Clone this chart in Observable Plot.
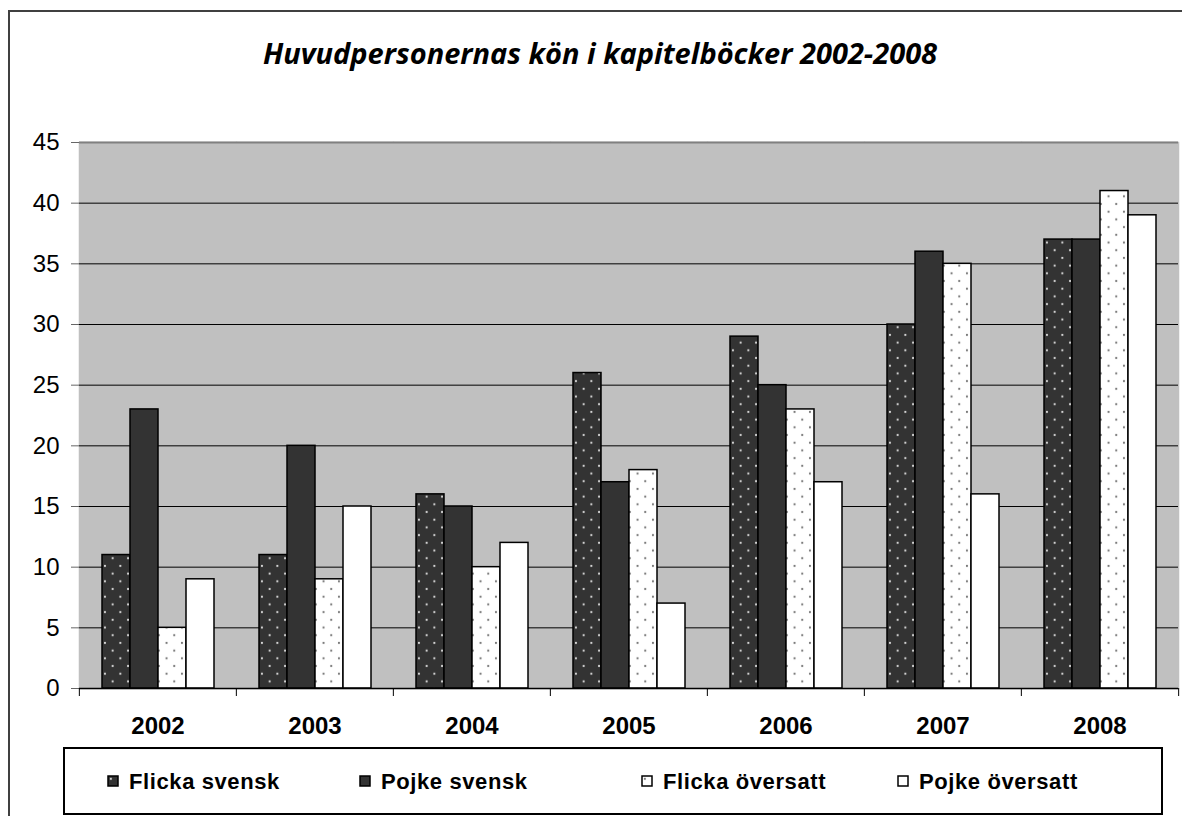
<!DOCTYPE html>
<html><head><meta charset="utf-8">
<script src="https://cdn.jsdelivr.net/npm/d3@7"></script>
<script src="https://cdn.jsdelivr.net/npm/@observablehq/plot@0.6"></script>
<style>
html,body{margin:0;padding:0;background:#fff;overflow:hidden;}
#page{position:relative;width:1182px;height:816px;overflow:hidden;}
#frame{position:absolute;left:8px;top:10px;width:1200px;height:900px;border:2px solid #404040;box-sizing:border-box;}
#title{position:absolute;left:0;top:38px;width:1200px;text-align:center;font-family:'Open Sans',Lato,sans-serif;font-weight:bold;font-style:italic;font-size:29px;line-height:30px;letter-spacing:0px;color:#000;white-space:nowrap;}
#chart{position:absolute;left:0;top:0;}
#legend{position:absolute;left:63px;top:747px;width:1100px;height:68px;border:2px solid #000;box-sizing:border-box;background:#fff;}
.item{position:absolute;top:22px;font-family:'Liberation Sans',Arial,sans-serif;font-weight:bold;font-size:22px;line-height:22px;letter-spacing:0.6px;white-space:nowrap;color:#000;}
.item svg{position:absolute;left:0;top:4px;}
.item span{position:absolute;left:22px;top:0;}
</style>
</head><body>
<div id="page">
  <div id="frame"></div>
  <div id="title">Huvudpersonernas kön i kapitelböcker 2002-2008</div>
  <div id="chart"></div>
  <div id="legend"></div>
</div>
<script>
const years = ["2002","2003","2004","2005","2006","2007","2008"];
const seriesNames = ["Flicka svensk","Pojke svensk","Flicka översatt","Pojke översatt"];
const flickaSvensk   = [11, 11, 16, 26, 29, 30, 37];
const pojkeSvensk    = [23, 20, 15, 17, 25, 36, 37];
const flickaOversatt = [ 5,  9, 10, 18, 23, 35, 41];
const pojkeOversatt  = [ 9, 15, 12,  7, 17, 16, 39];
const yTicks = [0, 5, 10, 15, 20, 25, 30, 35, 40, 45];
const gridValues = [5, 10, 15, 20, 25, 30, 35, 40];

const seriesValues = [flickaSvensk, pojkeSvensk, flickaOversatt, pojkeOversatt];
const data = years.flatMap((year, i) => seriesNames.map((series, j) => ({year, series, value: seriesValues[j][i]})));

const fills = ["url(#pFS)", "#333333", "url(#pFO)", "#ffffff"];

const W = 1182, H = 740, mL = 78, mR = 3, mT = 142, mB = 52;
const halfBand = (W - mL - mR) / years.length / 2;

const chart = Plot.plot({
  width: W, height: H,
  marginLeft: mL, marginRight: mR, marginTop: mT, marginBottom: mB,
  style: {fontFamily: "'Liberation Sans', Arial, sans-serif", fontSize: "24px", color: "#000", background: "transparent", overflow: "visible"},
  fx: {domain: years, padding: 0, axis: null, label: null},
  x: {domain: seriesNames, paddingInner: 0, paddingOuter: 0.76, axis: null, label: null},
  y: {domain: [0, 45], axis: null, label: null},
  color: {domain: seriesNames, range: fills},
  marks: [
    Plot.frame({fill: "#c0c0c0", stroke: "#c0c0c0", strokeWidth: 1.5}),
    Plot.ruleY(gridValues, {stroke: "#000", strokeWidth: 1}),
    Plot.ruleY([45], {stroke: "#808080", strokeWidth: 2}),
    Plot.axisY({anchor: "right", ticks: [], tickSize: 0, line: true, stroke: "#808080", strokeWidth: 2, label: null}),
    Plot.axisY({anchor: "left", ticks: [], tickSize: 0, line: true, stroke: "#666", strokeWidth: 1.5, label: null}),
    Plot.barY(data, {fx: "year", x: "series", y: "value", fill: "series", stroke: "#000", strokeWidth: 1.5}),
    Plot.axisY({ticks: yTicks, tickSize: 8, tickPadding: 12, stroke: "#666", fill: "#000", fontSize: 24, label: null}),
    Plot.ruleY([0], {stroke: "#000", strokeWidth: 1.5}),
    Plot.axisFx({anchor: "bottom", tickSize: 8, dx: -halfBand, tickFormat: () => "", stroke: "#000", label: null}),
    Plot.axisFx({anchor: "bottom", ticks: years.slice(-1), tickSize: 8, dx: halfBand, tickFormat: () => "", stroke: "#000", label: null}),
    Plot.axisFx({anchor: "bottom", tickSize: 0, tickPadding: 28, fontSize: 24, fontWeight: "bold", fill: "#000", label: null})
  ]
});

const defs = `<defs>
<pattern id="pFS" width="15.4" height="15.4" patternUnits="userSpaceOnUse">
<rect width="15.4" height="15.4" fill="#333333"/>
<circle cx="3.85" cy="3.85" r="1.1" fill="#d8d8d8"/><circle cx="11.55" cy="11.55" r="1.1" fill="#d8d8d8"/></pattern>
<pattern id="pFO" width="15.4" height="15.4" patternUnits="userSpaceOnUse">
<rect width="15.4" height="15.4" fill="#ffffff"/>
<circle cx="3.85" cy="3.85" r="1.1" fill="#777"/><circle cx="11.55" cy="11.55" r="1.1" fill="#777"/></pattern>
</defs>`;
d3.select(chart).insert("g", ":first-child").html(defs);
document.getElementById("chart").appendChild(chart);

// legend
const legendLefts = [42, 294, 576, 832];
const legend = d3.select("#legend");
seriesNames.forEach((s, j) => {
  const item = legend.append("div").attr("class", "item").style("left", legendLefts[j] + "px");
  const svg = item.append("svg").attr("width", 12).attr("height", 12);
  svg.append("rect").attr("x", 1).attr("y", 1).attr("width", 10).attr("height", 10)
     .attr("fill", fills[j]).attr("stroke", "#000").attr("stroke-width", 1.5);
  item.append("span").text(s);
});
</script>
</body></html>
